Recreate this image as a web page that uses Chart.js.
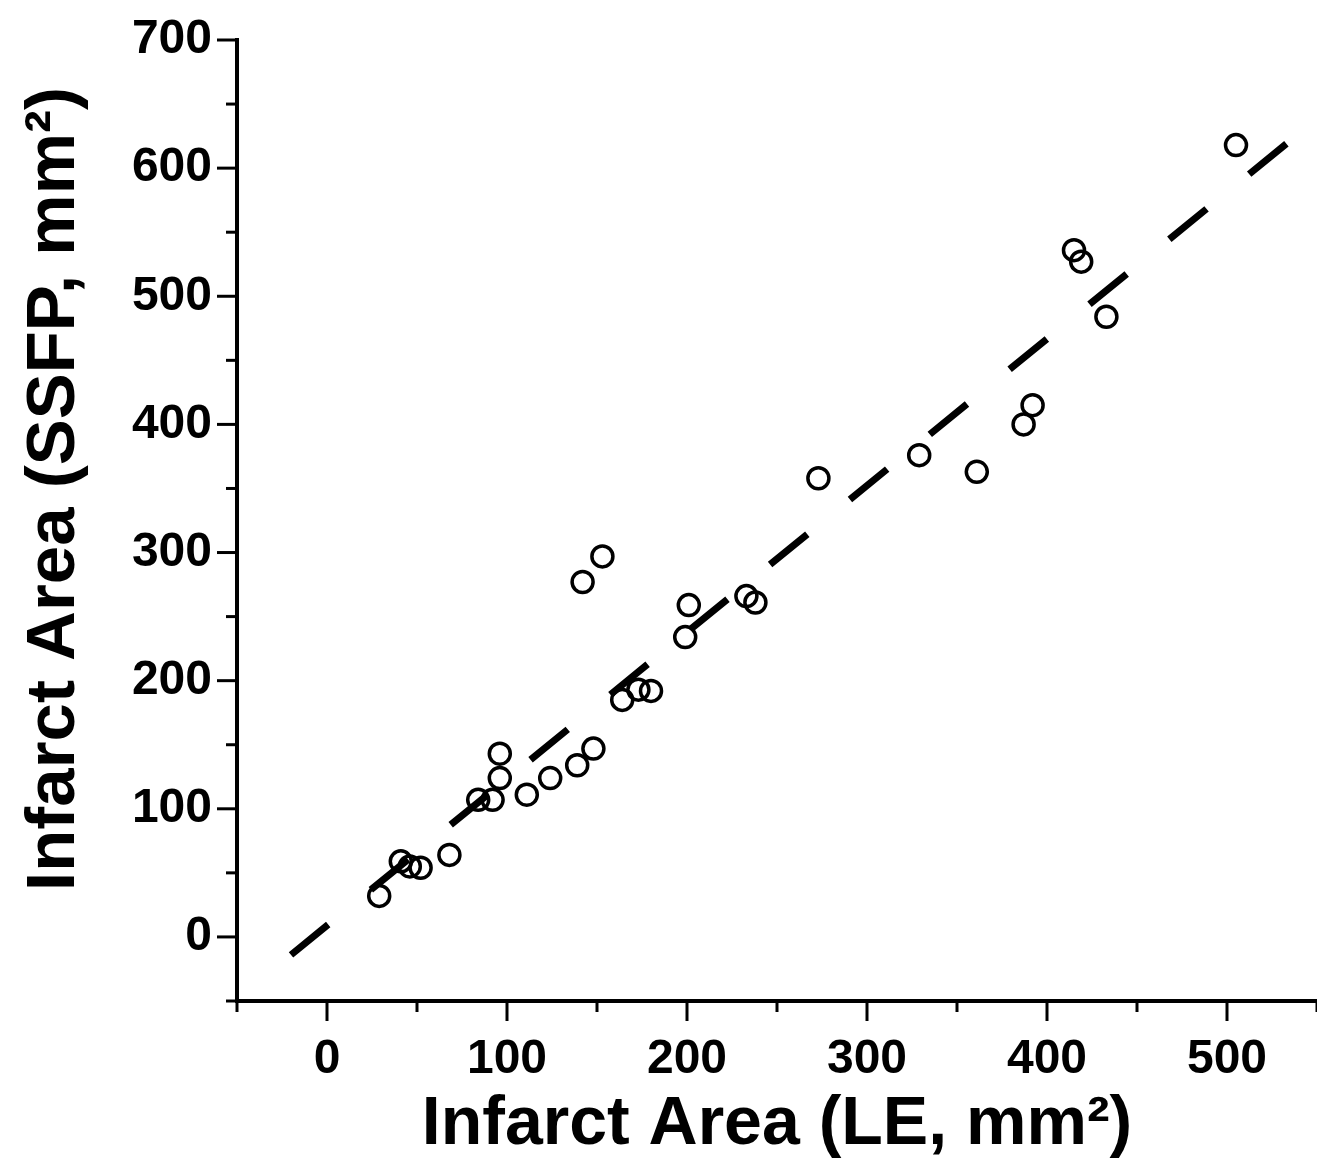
<!DOCTYPE html>
<html>
<head>
<meta charset="utf-8">
<title>Infarct Area: SSFP vs LE</title>
<script src="https://cdn.jsdelivr.net/npm/chart.js@4.4.1/dist/chart.umd.min.js"></script>
<style>
  html, body { margin: 0; padding: 0; background: #fff; }
</style>
</head>
<body>
<canvas id="chart" width="1317" height="1162"></canvas>
<script>
// ====================================
// Data (mm^2)
// ====================================
const leArea = [29, 41, 46, 52, 68, 84, 92, 96, 96, 111, 124, 139, 148, 142, 153, 164,
  173, 180, 199, 201, 233, 238, 273, 329, 361, 387, 392, 415, 419, 433, 505];
const ssfpArea = [32, 59, 55, 54, 64, 107, 107, 124, 143, 111, 124, 134, 147, 277, 297, 185,
  193, 192, 234, 259, 266, 261, 358, 376, 363, 400, 415, 536, 527, 484, 618];

// dashed fit line, end points
const fitX = [-20, 533];
const fitY = [-14, 619];

// axis ranges and labelled ticks
const xRange = [-50, 550];
const yRange = [-50, 700];
const xLabels = [0, 100, 200, 300, 400, 500];
const yLabels = [0, 100, 200, 300, 400, 500, 600, 700];
const minorStep = 50;

const xTitle = 'Infarct Area (LE, mm\u00B2)';
const yTitle = 'Infarct Area (SSFP, mm\u00B2)';

const FONT = '"Liberation Sans", Arial, Helvetica, sans-serif';

// outward tick marks: long at labelled values, short in between
const tickMarks = {
  id: 'tickMarks',
  afterDraw(chart) {
    const { ctx } = chart;
    const xs = chart.scales.x;
    const ys = chart.scales.y;
    ctx.save();
    ctx.strokeStyle = '#000';
    ctx.lineWidth = 3;
    xs.ticks.forEach(t => {
      const px = xs.getPixelForValue(t.value);
      const len = xLabels.includes(t.value) ? 20 : 11;
      ctx.beginPath();
      ctx.moveTo(px, xs.top);
      ctx.lineTo(px, xs.top + len);
      ctx.stroke();
    });
    ys.ticks.forEach(t => {
      const py = ys.getPixelForValue(t.value);
      const len = yLabels.includes(t.value) ? 20 : 11;
      ctx.beginPath();
      ctx.moveTo(ys.right, py);
      ctx.lineTo(ys.right - len, py);
      ctx.stroke();
    });
    ctx.restore();
  }
};

// axis titles, placed relative to the chart area
const axisTitles = {
  id: 'axisTitles',
  afterDraw(chart) {
    const { ctx, chartArea: area } = chart;
    ctx.save();
    ctx.fillStyle = '#000';
    ctx.textAlign = 'center';
    ctx.textBaseline = 'middle';

    ctx.font = `bold 68px ${FONT}`;
    ctx.fillText(xTitle, (area.left + area.right) / 2, area.bottom + 124);

    ctx.translate(area.left - 182, area.top + 449);
    ctx.rotate(-Math.PI / 2);
    ctx.font = `bold 69px ${FONT}`;
    ctx.fillText(yTitle, 0, 0);
    ctx.restore();
  }
};

const ctx = document.getElementById('chart').getContext('2d');

new Chart(ctx, {
  type: 'scatter',
  data: {
    datasets: [
      {
        type: 'line',
        label: 'Fit',
        data: fitX.map((x, i) => ({ x, y: fitY[i] })),
        borderColor: '#000',
        borderWidth: 7,
        borderDash: [48, 55],
        borderCapStyle: 'butt',
        pointRadius: 0,
        fill: false
      },
      {
        label: 'Infarct area',
        data: leArea.map((x, i) => ({ x, y: ssfpArea[i] })),
        pointStyle: 'circle',
        pointRadius: 10.5,
        pointHoverRadius: 10.5,
        borderWidth: 3.5,
        borderColor: '#000',
        backgroundColor: 'rgba(0,0,0,0)'
      }
    ]
  },
  options: {
    responsive: false,
    animation: false,
    devicePixelRatio: 1,
    layout: { autoPadding: false, padding: { top: 40, right: 0, bottom: 0, left: 0 } },
    plugins: {
      legend: { display: false },
      tooltip: { enabled: false }
    },
    scales: {
      x: {
        type: 'linear',
        min: xRange[0],
        max: xRange[1],
        afterFit(scale) {
          scale.height = 161;
          scale.paddingLeft = 0;
          scale.paddingRight = 0;
        },
        grid: { display: false },
        border: { display: true, color: '#000', width: 4 },
        ticks: {
          stepSize: minorStep,
          padding: 22,
          color: '#000',
          maxRotation: 0,
          autoSkip: false,
          font: { family: FONT, size: 48, weight: 'bold' },
          callback: v => (xLabels.includes(v) ? String(v) : '')
        }
      },
      y: {
        type: 'linear',
        min: yRange[0],
        max: yRange[1],
        afterFit(scale) {
          scale.width = 237;
          scale.paddingTop = 0;
          scale.paddingBottom = 0;
        },
        grid: { display: false },
        border: { display: true, color: '#000', width: 4 },
        ticks: {
          stepSize: minorStep,
          padding: 17,
          color: '#000',
          autoSkip: false,
          font: { family: FONT, size: 48, weight: 'bold' },
          callback: v => (yLabels.includes(v) ? String(v) : '')
        }
      }
    }
  },
  plugins: [tickMarks, axisTitles]
});
</script>
</body>
</html>
